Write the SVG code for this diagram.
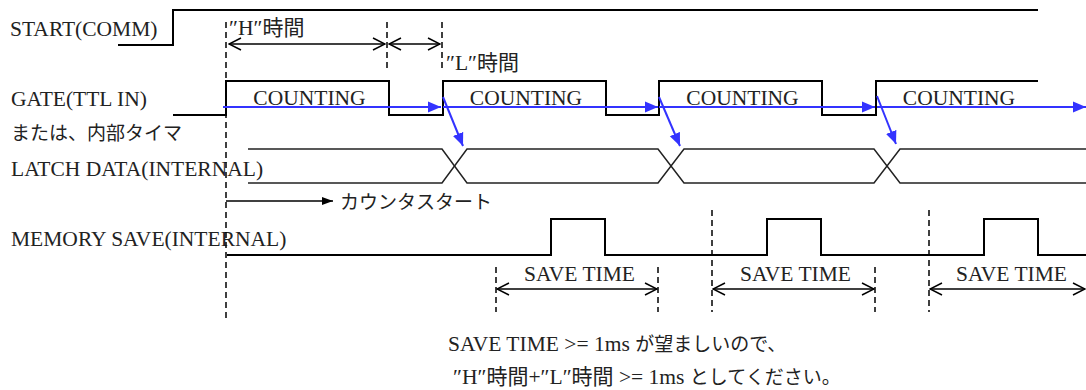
<svg xmlns="http://www.w3.org/2000/svg" width="1086" height="390" viewBox="0 0 1086 390">
<style>
.t{font-family:"Liberation Serif","Noto Sans CJK JP",serif;font-size:21.5px;fill:#222}
.j{font-family:"Noto Sans CJK JP",sans-serif;font-size:19px}
.k{font-family:"Noto Sans CJK JP",sans-serif;font-size:21px}
.w{fill:none;stroke:#000;stroke-width:2}
.x{fill:none;stroke:#222;stroke-width:1.5}
.d{fill:none;stroke:#000;stroke-width:1.5;stroke-dasharray:6 4}
.dim{fill:none;stroke:#000;stroke-width:1.5;marker-start:url(#va);marker-end:url(#va)}
.b{fill:none;stroke:#3333ff;stroke-width:2;marker-end:url(#ba)}
</style>
<defs>
<marker id="va" viewBox="0 0 14 14" refX="13" refY="7" markerWidth="14" markerHeight="14" markerUnits="userSpaceOnUse" orient="auto-start-reverse"><path d="M1,1 L13,7 L1,13" fill="none" stroke="#000" stroke-width="1.5"/></marker>
<marker id="ba" viewBox="0 0 13 12" refX="13" refY="6" markerWidth="13" markerHeight="12" markerUnits="userSpaceOnUse" orient="auto"><path d="M0,0.5 L13,6 L0,11.5 Z" fill="#3333ff"/></marker>
<marker id="ka" viewBox="0 0 11 8" refX="11" refY="4" markerWidth="11" markerHeight="8" markerUnits="userSpaceOnUse" orient="auto"><path d="M0,0 L11,4 L0,8 Z" fill="#000"/></marker>
</defs>
<rect width="1086" height="390" fill="#fff"/>

<g id="start">
<text class="t" x="10" y="36">START(COMM)</text>
<polyline class="w" points="118,45 173,45 173,10 1038,10"/>
</g>

<g id="gate">
<text class="t" x="11" y="106">GATE(TTL IN)</text>
<text class="t" x="11" y="140"><tspan class="j">または、内部タイマ</tspan></text>
<polyline class="w" points="173,115 226,115 226,81 389,81 389,115 443,115 443,81 606,81 606,115 659,115 659,81 822,81 822,115 876,115 876,81 1038,81"/>
<text class="t" x="309.5" y="105" text-anchor="middle">COUNTING</text>
<text class="t" x="526" y="105" text-anchor="middle">COUNTING</text>
<text class="t" x="742.5" y="105" text-anchor="middle">COUNTING</text>
<text class="t" x="959" y="105" text-anchor="middle">COUNTING</text>
</g>

<g id="latch">
<text class="t" x="11" y="176">LATCH DATA(INTERNAL)</text>
<path class="x" d="M248,149 H442 L467,183 H658 L684,149 H874 L900,183 H1086"/>
<path class="x" d="M248,183 H442 L467,149 H658 L684,183 H874 L900,149 H1086"/>
</g>

<g id="memory">
<text class="t" x="11" y="246">MEMORY SAVE(INTERNAL)</text>
<polyline class="w" points="227,255 551,255 551,219 605,219 605,255 767,255 767,219 821,219 821,255 984,255 984,219 1038,219 1038,255 1086,255"/>
</g>

<g id="timing">
<line class="d" x1="226" y1="22" x2="226" y2="320"/>
<line class="d" x1="387" y1="22" x2="387" y2="72"/>
<line class="d" x1="442" y1="22" x2="442" y2="72"/>
<line class="dim" x1="229" y1="44" x2="385" y2="44"/>
<line class="dim" x1="389" y1="44" x2="440" y2="44"/>
<text class="t" x="229" y="35">″H″<tspan class="k">時間</tspan></text>
<text class="t" x="446" y="70">″L″<tspan class="k">時間</tspan></text>
</g>

<g id="save-time">
<line class="d" x1="496" y1="267" x2="496" y2="312"/>
<line class="d" x1="658" y1="267" x2="658" y2="312"/>
<line class="d" x1="712" y1="210" x2="712" y2="312"/>
<line class="d" x1="875" y1="267" x2="875" y2="312"/>
<line class="d" x1="929" y1="210" x2="929" y2="312"/>
<line class="dim" x1="497" y1="289" x2="657" y2="289"/>
<line class="dim" x1="713" y1="289" x2="874" y2="289"/>
<line class="dim" x1="930" y1="289" x2="1085" y2="289"/>
<text class="t" x="579.5" y="281" text-anchor="middle">SAVE TIME</text>
<text class="t" x="795.5" y="281" text-anchor="middle">SAVE TIME</text>
<text class="t" x="1011.5" y="281" text-anchor="middle">SAVE TIME</text>
</g>

<g id="connectors">
<line class="b" x1="223" y1="107" x2="441" y2="107"/>
<line class="b" x1="443" y1="107" x2="658" y2="107"/>
<line class="b" x1="659" y1="107" x2="875" y2="107"/>
<line class="b" x1="877" y1="107" x2="1086" y2="107"/>
<line class="b" x1="443" y1="97" x2="463" y2="146"/>
<line class="b" x1="659" y1="97" x2="680" y2="146"/>
<line class="b" x1="877" y1="96" x2="896" y2="144"/>
<line x1="226" y1="201" x2="333" y2="201" stroke="#000" stroke-width="1.5" marker-end="url(#ka)"/>
</g>

<g id="count-start">
<text class="t" x="340" y="209"><tspan class="j">カウンタスタート</tspan></text>
</g>

<g id="note">
<text class="t" x="448" y="351">SAVE TIME &gt;= 1ms <tspan class="j">が望ましいので、</tspan></text>
<text class="t" x="453" y="384">″H″<tspan class="k">時間</tspan>+″L″<tspan class="k">時間</tspan> &gt;= 1ms <tspan class="j">としてください。</tspan></text>
</g>
</svg>
